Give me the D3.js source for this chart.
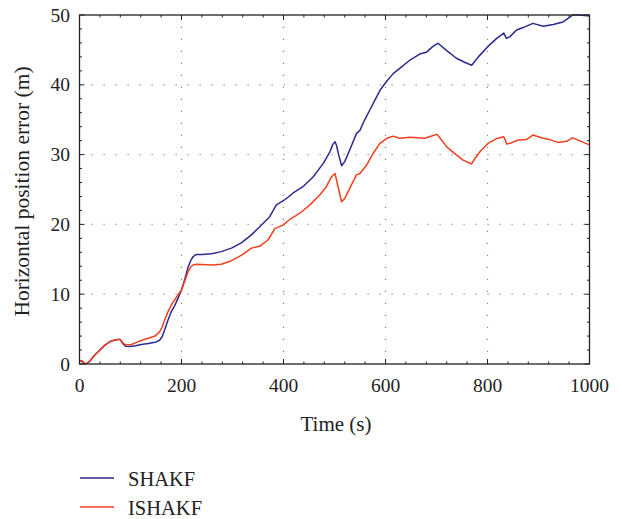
<!DOCTYPE html>
<html>
<head>
<meta charset="utf-8">
<script src="https://cdn.jsdelivr.net/npm/d3@7"></script>
<style>
  html, body { margin: 0; padding: 0; background: #fff; }
  svg { display: block; }
  text { font-family: "Liberation Serif", "DejaVu Serif", serif; fill: #222; }
</style>
</head>
<body>
<svg id="chart" width="622" height="519"></svg>
<script>
// Horizontal position error over time for the two filters
const shakfTime = [0,5,10,15,20,30,40,50,62,75,80,84,90,100,110,121,135,148,157,162,167,173,180,187,193,200,207,213,218,223,229,240,259,278,298,318,337,354,373,386,402,419,438,458,478,491,497,501,504,508,514,520,530,543,550,559,570,580,590,600,615,628,648,667,680,693,703,720,739,756,769,782,801,818,832,837,844,857,870,889,909,929,948,958,967,980,1000];
const shakfError = [0.4,0.4,0.05,0.1,0.4,1.3,2.0,2.7,3.3,3.5,3.5,3.0,2.55,2.5,2.6,2.8,2.95,3.1,3.4,3.9,4.9,6.2,7.5,8.4,9.4,10.6,12.3,13.9,14.8,15.4,15.7,15.7,15.8,16.1,16.6,17.4,18.5,19.7,21.1,22.8,23.5,24.5,25.4,26.8,28.75,30.4,31.5,31.85,31.3,30.0,28.4,29.0,30.7,33.0,33.5,34.95,36.5,37.9,39.3,40.3,41.6,42.35,43.55,44.4,44.65,45.5,45.95,44.9,43.8,43.2,42.8,44.0,45.5,46.65,47.4,46.65,46.9,47.85,48.2,48.8,48.4,48.65,49.0,49.5,50.0,50.0,49.85];

const ishakfTime = [0,5,10,15,20,30,40,50,62,75,80,84,90,102,112,122,135,148,157,162,167,173,180,193,200,207,213,218,223,230,259,278,298,318,337,354,370,383,399,412,432,452,471,484,494,501,507,514,520,530,543,550,563,576,589,602,615,628,648,677,687,701,710,720,739,752,769,773,785,801,818,832,838,847,860,876,889,909,922,938,955,967,980,1000];
const ishakfError = [0.4,0.5,0.05,0.1,0.4,1.3,2.0,2.7,3.3,3.5,3.5,3.1,2.75,2.8,3.1,3.4,3.7,4.0,4.6,5.3,6.3,7.4,8.45,9.9,10.6,12.0,13.2,13.9,14.2,14.3,14.2,14.3,14.8,15.6,16.6,16.9,17.8,19.4,19.9,20.7,21.6,22.8,24.2,25.4,26.8,27.3,25.4,23.25,23.7,25.2,27.1,27.3,28.5,30.2,31.6,32.3,32.65,32.35,32.5,32.35,32.6,32.9,32.1,31.1,29.95,29.2,28.65,29.2,30.4,31.6,32.3,32.55,31.5,31.7,32.1,32.15,32.8,32.35,32.15,31.75,31.9,32.4,32.0,31.4];

const seriesNames = ["SHAKF", "ISHAKF"];
const seriesColors = ["#2d2a8e", "#f2401f"];
const xTicks = [0, 200, 400, 600, 800, 1000];
const yTicks = [0, 10, 20, 30, 40, 50];

const svg = d3.select("#chart");
const plotLeft = 79.5, plotRight = 589.5, plotTop = 15, plotBottom = 364;

const x = d3.scaleLinear().domain([0, 1000]).range([plotLeft, plotRight]);
const y = d3.scaleLinear().domain([0, 50]).range([plotBottom, plotTop]);

// dotted grid
const grid = svg.append("g").attr("stroke", "#8a8a8a").attr("stroke-width", 1.2)
  .attr("stroke-dasharray", "1.2,10.8");
grid.selectAll("line.gx").data(xTicks.slice(1, -1)).join("line")
  .attr("x1", d => x(d)).attr("x2", d => x(d))
  .attr("y1", plotBottom).attr("y2", plotTop);
grid.selectAll("line.gy").data(yTicks.slice(1, -1)).join("line")
  .attr("y1", d => y(d)).attr("y2", d => y(d))
  .attr("x1", plotLeft).attr("x2", plotRight);

// minor and major ticks (inside, on all four sides)
const xMinor = d3.range(0, 1001, 40).filter(v => !xTicks.includes(v));
const yMinor = d3.range(0, 51, 2).filter(v => !yTicks.includes(v));
const ticks = svg.append("g").attr("stroke", "#222").attr("stroke-width", 1);
function xTick(v, len) {
  ticks.append("line").attr("x1", x(v)).attr("x2", x(v)).attr("y1", plotBottom).attr("y2", plotBottom - len);
  ticks.append("line").attr("x1", x(v)).attr("x2", x(v)).attr("y1", plotTop).attr("y2", plotTop + len);
}
function yTick(v, len) {
  ticks.append("line").attr("y1", y(v)).attr("y2", y(v)).attr("x1", plotLeft).attr("x2", plotLeft + len);
  ticks.append("line").attr("y1", y(v)).attr("y2", y(v)).attr("x1", plotRight).attr("x2", plotRight - len);
}
xMinor.forEach(v => xTick(v, 2.5));
yMinor.forEach(v => yTick(v, 2.5));
xTicks.forEach(v => xTick(v, 5));
yTicks.forEach(v => yTick(v, 5));

// data lines
const line = d3.line().x(d => x(d[0])).y(d => y(d[1]));
const seriesData = [
  d3.zip(shakfTime, shakfError),
  d3.zip(ishakfTime, ishakfError)
];
seriesData.forEach((pts, i) => {
  svg.append("path").datum(pts)
    .attr("fill", "none")
    .attr("stroke", seriesColors[i])
    .attr("stroke-width", 1.5)
    .attr("stroke-linejoin", "round")
    .attr("d", line);
});

// frame
svg.append("rect").attr("x", plotLeft).attr("y", plotTop)
  .attr("width", plotRight - plotLeft).attr("height", plotBottom - plotTop)
  .attr("fill", "none").attr("stroke", "#222").attr("stroke-width", 1.3);

// tick labels
svg.append("g").selectAll("text").data(xTicks).join("text")
  .attr("x", d => x(d)).attr("y", 392)
  .attr("text-anchor", "middle").attr("font-size", 19.5)
  .text(d => d);
svg.append("g").selectAll("text").data(yTicks).join("text")
  .attr("x", 70).attr("y", d => y(d) + 6.5)
  .attr("text-anchor", "end").attr("font-size", 19.5)
  .text(d => d);

// axis titles
svg.append("text").attr("x", 336).attr("y", 431)
  .attr("text-anchor", "middle").attr("font-size", 21)
  .text("Time (s)");
svg.append("text")
  .attr("transform", `translate(29,${(plotTop + plotBottom) / 2 + 2}) rotate(-90)`)
  .attr("text-anchor", "middle").attr("font-size", 21.5)
  .text("Horizontal position error (m)");

// legend
const legend = svg.append("g");
seriesNames.forEach((name, i) => {
  const ly = 478 + i * 29;
  legend.append("line").attr("x1", 80).attr("x2", 114)
    .attr("y1", ly).attr("y2", ly)
    .attr("stroke", seriesColors[i]).attr("stroke-width", 1.5);
  legend.append("text").attr("x", 128).attr("y", ly + 7.5)
    .attr("font-size", 20.5).text(name);
});
</script>
</body>
</html>
